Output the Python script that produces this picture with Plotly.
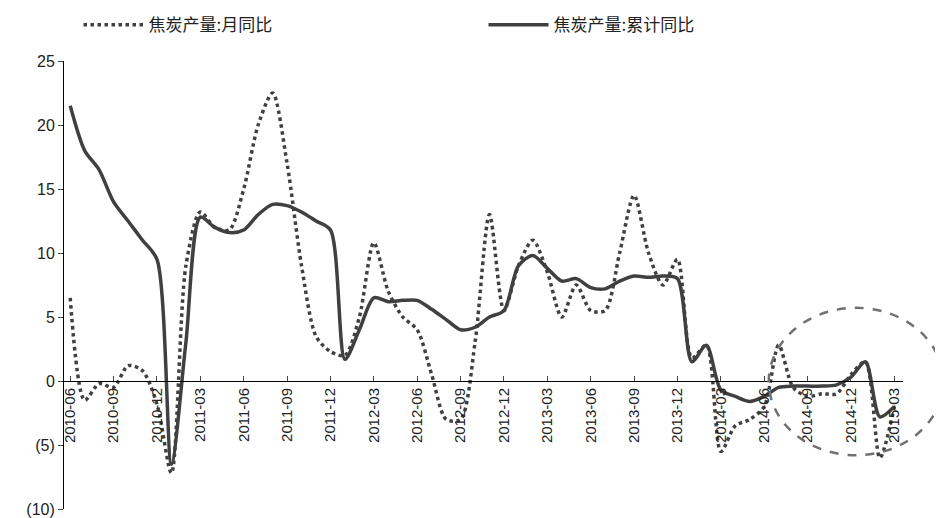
import plotly.graph_objects as go
import pandas as pd

months = pd.date_range("2010-06-01", "2015-03-01", freq="MS").strftime("%Y-%m").tolist()
monthly_yoy = [6.5,-1.5,-0.2,-0.5,1.2,0.8,-1.8,-7.2,9,13.2,12,11.8,15,20,22.5,17,9,3.5,2.3,2,5,10.8,7,5,4,0.5,-3,-3,3,13,5.5,9,11,8.5,5,7.5,5.5,5.5,10,14.5,10,7.5,9.5,1.8,2.8,-5.5,-3.5,-3,-2,2.8,-0.5,-1.2,-1,-1,0.5,1.5,-6,-2]
cum_yoy = [21.5,18,16.5,14,12.5,11,9.5,-6.5,3,12.8,12,11.6,11.8,13,13.8,13.7,13.2,12.5,11.8,1.7,4,6.5,6.2,6.3,6.3,5.6,4.8,4,4.2,5,5.5,9,9.8,8.8,7.8,8,7.3,7.2,7.8,8.2,8.1,8.2,8,1.5,2.8,-0.7,-1.2,-1.6,-1.2,-0.5,-0.4,-0.4,-0.4,-0.3,0.3,1.5,-2.8,-2]
ytick_vals = [-10,-5,0,5,10,15,20,25]
ytick_text = ["(10)","(5)","0","5","10","15","20","25"]

idx = list(range(len(months)))
fig = go.Figure()
fig.add_trace(go.Scatter(x=idx, y=monthly_yoy, mode="lines", name="焦炭产量:月同比",
    line=dict(color="#404040", width=3.5, dash="dot", shape="spline", smoothing=0.8)))
fig.add_trace(go.Scatter(x=idx, y=cum_yoy, mode="lines", name="焦炭产量:累计同比",
    line=dict(color="#404040", width=3.5, shape="spline", smoothing=0.8)))

tv = idx[::3]
fig.update_layout(
    width=943, height=518, paper_bgcolor="white", plot_bgcolor="white",
    margin=dict(l=56, r=48, t=53, b=17, autoexpand=False),
    font=dict(family="Liberation Sans, Noto Sans CJK SC", size=15, color="#222"),
    legend=dict(orientation="h", x=0.5, xanchor="center", y=1.08, yanchor="middle",
                font=dict(size=17, family="Noto Sans CJK SC"), itemwidth=60,
                entrywidth=330, bgcolor="rgba(0,0,0,0)"),
    xaxis=dict(range=[-0.43, 57.6], tickvals=tv, ticktext=[months[i] for i in tv],
               tickangle=-90, anchor="free", position=10/35, showline=True,
               linecolor="black", linewidth=1, showgrid=False, zeroline=False,
               ticks="inside", ticklen=5, tickfont=dict(size=15)),
    yaxis=dict(range=[-10, 25], tickvals=ytick_vals, ticktext=ytick_text,
               showline=True, linecolor="black", linewidth=1, showgrid=False,
               zeroline=False, ticks="outside", ticklen=5, tickfont=dict(size=16)),
    shapes=[dict(type="circle", xref="paper", yref="paper", x0=0.840, x1=1.048,
                 y0=0.12, y1=0.449, line=dict(color="#707070", width=2.5, dash="dash"))],
)
fig.write_html("out.html")
